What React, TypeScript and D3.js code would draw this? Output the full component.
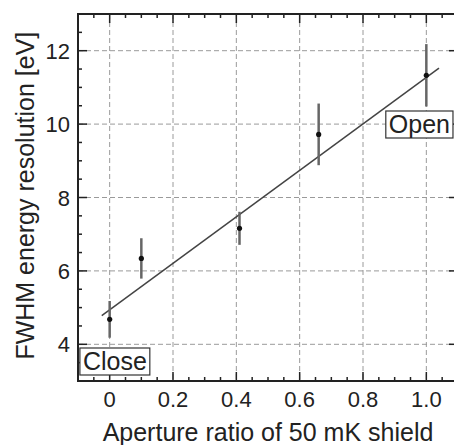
import { useEffect, useRef } from 'react';
import * as d3 from 'd3';

// aperture ratio vs FWHM energy resolution
const apertureRatios = [0, 0.1, 0.41, 0.66, 1.0];
const fwhmValues = [4.68, 6.34, 7.16, 9.72, 11.33];
const fwhmErrors = [0.5, 0.55, 0.45, 0.84, 0.85];

// linear fit
const fitIntercept = 4.94;
const fitSlope = 6.33;
const fitRange = [-0.025, 1.04];

const xTicks = [0, 0.2, 0.4, 0.6, 0.8, 1.0];
const xTickLabels = ['0', '0.2', '0.4', '0.6', '0.8', '1.0'];
const yTicks = [4, 6, 8, 10, 12];

const xLabel = 'Aperture ratio of 50 mK shield';
const yLabel = 'FWHM energy resolution [eV]';

const W = 454;
const H = 445;
const font = 'Liberation Sans, Arial, Helvetica, sans-serif';

const App = () => {
  const svgRef = useRef<SVGSVGElement | null>(null);

  useEffect(() => {
    const svg = d3.select(svgRef.current);
    svg.selectAll('*').remove();

    const left = 78, right = 458, top = 14, bottom = 381;
    const x = d3.scaleLinear().domain([-0.1, 1.1]).range([left, right]);
    const y = d3.scaleLinear().domain([3, 13]).range([bottom, top]);

    // grid
    const grid = svg.append('g').attr('stroke', '#9a9a9a').attr('stroke-width', 1).attr('stroke-dasharray', '5,3');
    xTicks.forEach((t) => {
      grid.append('line').attr('x1', x(t)).attr('x2', x(t)).attr('y1', top).attr('y2', bottom);
    });
    yTicks.forEach((t) => {
      grid.append('line').attr('x1', left).attr('x2', right).attr('y1', y(t)).attr('y2', y(t));
    });

    // ticks, pointing inward on all sides
    const minorX = d3.range(-0.1, 1.1001, 0.05).map((d) => +d.toFixed(2));
    const minorY = d3.range(3, 13.001, 0.5);
    const ticks = svg.append('g').attr('stroke', '#222').attr('stroke-width', 1.5);
    minorX.forEach((t) => {
      const major = xTicks.some((m) => Math.abs(m - t) < 1e-6);
      const len = major ? 9 : 4;
      ticks.append('line').attr('x1', x(t)).attr('x2', x(t)).attr('y1', bottom).attr('y2', bottom - len);
      ticks.append('line').attr('x1', x(t)).attr('x2', x(t)).attr('y1', top).attr('y2', top + len);
    });
    minorY.forEach((t) => {
      const major = yTicks.includes(t);
      const len = major ? 9 : 4;
      ticks.append('line').attr('x1', left).attr('x2', left + len).attr('y1', y(t)).attr('y2', y(t));
      ticks.append('line').attr('x1', right).attr('x2', right - len).attr('y1', y(t)).attr('y2', y(t));
    });

    // frame
    svg.append('rect')
      .attr('x', left).attr('y', top)
      .attr('width', right - left).attr('height', bottom - top)
      .attr('fill', 'none').attr('stroke', '#222').attr('stroke-width', 2);

    // fit line
    const line = d3.line<number>().x((d) => x(d)).y((d) => y(fitIntercept + fitSlope * d));
    svg.append('path')
      .attr('d', line(fitRange))
      .attr('fill', 'none')
      .attr('stroke', '#444')
      .attr('stroke-width', 1.5);

    // error bars
    svg.append('g')
      .selectAll('line')
      .data(apertureRatios)
      .enter()
      .append('line')
      .attr('x1', (d) => x(d))
      .attr('x2', (d) => x(d))
      .attr('y1', (d, i) => y(fwhmValues[i] - fwhmErrors[i]))
      .attr('y2', (d, i) => y(fwhmValues[i] + fwhmErrors[i]))
      .attr('stroke', '#666')
      .attr('stroke-width', 2.5);

    // points
    svg.append('g')
      .selectAll('circle')
      .data(apertureRatios)
      .enter()
      .append('circle')
      .attr('cx', (d) => x(d))
      .attr('cy', (d, i) => y(fwhmValues[i]))
      .attr('r', 2.6)
      .attr('fill', '#111');

    // tick labels
    svg.append('g')
      .selectAll('text')
      .data(xTicks)
      .enter()
      .append('text')
      .attr('x', (d) => x(d))
      .attr('y', 407)
      .attr('text-anchor', 'middle')
      .style('font-family', font)
      .style('font-size', '22px')
      .style('fill', '#222')
      .text((d, i) => xTickLabels[i]);

    svg.append('g')
      .selectAll('text')
      .data(yTicks)
      .enter()
      .append('text')
      .attr('x', 70)
      .attr('y', (d) => y(d) + 8)
      .attr('text-anchor', 'end')
      .style('font-family', font)
      .style('font-size', '22px')
      .style('fill', '#222')
      .text((d) => d);

    // axis titles
    svg.append('text')
      .attr('x', (left + right) / 2)
      .attr('y', 441)
      .attr('text-anchor', 'middle')
      .style('font-family', font)
      .style('font-size', '25px')
      .style('fill', '#222')
      .text(xLabel);

    svg.append('text')
      .attr('transform', `translate(34, ${y(8.05)}) rotate(-90)`)
      .attr('text-anchor', 'middle')
      .style('font-family', font)
      .style('font-size', '25px')
      .style('fill', '#222')
      .text(yLabel);

    // boxed annotations
    const boxed = (label: string, bx: number, by: number) => {
      const g = svg.append('g');
      const t = g.append('text')
        .attr('x', bx + 3)
        .attr('y', by)
        .style('font-family', font)
        .style('font-size', '25px')
        .style('fill', '#222')
        .text(label);
      const bb = (t.node() as SVGTextElement).getBBox();
      g.insert('rect', 'text')
        .attr('x', bx)
        .attr('y', bb.y + 1)
        .attr('width', bb.width + 6)
        .attr('height', bb.height - 1)
        .attr('fill', 'white')
        .attr('stroke', '#333')
        .attr('stroke-width', 1.2);
    };
    boxed('Close', x(-0.094), 370);
    boxed('Open', x(0.872), 133);
  }, []);

  return (
    <svg
      ref={svgRef}
      width={W}
      height={H}
      style={{ position: 'absolute', left: 0, top: 0, background: 'white' }}
    />
  );
};

export default App;
